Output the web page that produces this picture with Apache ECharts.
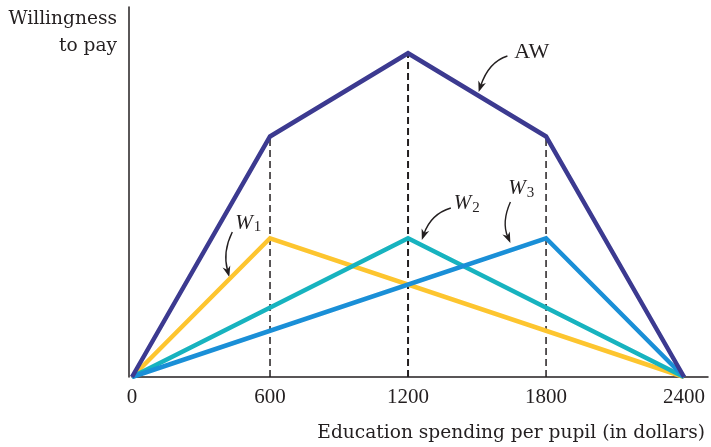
<!DOCTYPE html>
<html>
<head>
<meta charset="utf-8">
<script src="https://cdn.jsdelivr.net/npm/echarts@6/dist/echarts.min.js"></script>
<style>
  html, body { margin: 0; padding: 0; background: #fff; }
  #chart { width: 711px; height: 447px; }
</style>
</head>
<body>
<div id="chart"></div>
<script>
// spending levels (dollars per pupil)
const spendingTicks = [0, 600, 1200, 1800, 2400];

// aggregate willingness to pay
const awX = [0, 600, 1200, 1800, 2400];
const awY = [0, 10.4, 14, 10.4, 0];

// individual willingness to pay
const w1X = [0, 600, 2400];
const w1Y = [0, 6, 0];
const w2X = [0, 1200, 2400];
const w2Y = [0, 6, 0];
const w3X = [0, 1800, 2400];
const w3Y = [0, 6, 0];

// dashed drop lines from the kinks of AW
const dropX = [600, 1200, 1800];
const dropY = [10.4, 14, 10.4];

// annotation labels and arrows, in data units
const labelNames = ["AW", "W1", "W2", "W3"];
const labelAt = [[1662, 14.05], [449, 6.66], [1399, 7.52], [1636, 8.17]];
const arrowFrom = [[1632, 13.88], [436, 6.27], [1386, 7.31], [1645, 7.57]];
const arrowCtrl = [[1550, 13.62], [393, 5.41], [1299, 7.05], [1606, 6.70]];
const arrowTip = [[1507, 12.32], [423, 4.32], [1260, 5.92], [1645, 5.79]];

const FONT = "Liberation Serif";
const WIDE_FONT = "DejaVu Serif";
const INK = "#231f20";

const zip = (xs, ys) => xs.map((x, i) => [x, ys[i]]);

const chart = echarts.init(document.getElementById("chart"));

const dropSeries = dropX.map((x, i) => ({
    type: "line",
    data: [[x, 0], [x, dropY[i]]],
    showSymbol: false,
    silent: true,
    z: 1,
    lineStyle: { color: INK, width: i === 1 ? 2 : 1.5, type: [7, 4] }
}));

function wLine(xs, ys, color, z) {
    return {
        type: "line",
        data: zip(xs, ys),
        showSymbol: false,
        silent: true,
        z: z,
        lineStyle: { color: color, width: 4.5, join: "miter", cap: "butt" }
    };
}

chart.setOption({
    backgroundColor: "#fff",
    animation: false,
    grid: { left: 132, top: 7, width: 579, bottom: 70 },
    xAxis: {
        type: "value",
        min: 0,
        max: 2504,
        interval: 600,
        splitLine: { show: false },
        axisTick: { show: false },
        axisLine: { lineStyle: { color: INK, width: 1.5 } },
        axisLabel: {
            margin: 10,
            color: INK,
            fontFamily: FONT,
            fontSize: 21,
            formatter: v => (spendingTicks.includes(v) ? String(v) : "")
        }
    },
    yAxis: {
        type: "value",
        min: 0,
        max: 16,
        offset: 3,
        splitLine: { show: false },
        axisTick: { show: false },
        axisLabel: { show: false },
        axisLine: { show: true, onZero: false, lineStyle: { color: INK, width: 1.5 } }
    },
    series: [
        ...dropSeries,
        wLine(w1X, w1Y, "#fdc52f", 2),
        wLine(w2X, w2Y, "#17b3bf", 3),
        wLine(w3X, w3Y, "#1a8fd7", 4),
        wLine(awX, awY, "#3c3a90", 5)
    ]
});

/**
 * ----------------------------------------
 * ANNOTATIONS (placed through the axes)
 * ----------------------------------------
 */
const px = p => chart.convertToPixel({ gridIndex: 0 }, p);

const graphics = [
    {
        type: "text",
        x: 117, y: 6,
        style: {
            text: "Willingness\nto pay",
            align: "right",
            fill: INK,
            font: "18.6px '" + WIDE_FONT + "'",
            lineHeight: 27
        }
    },
    {
        type: "text",
        x: 705, y: 424,
        style: {
            text: "Education spending per pupil (in dollars)",
            align: "right",
            fill: INK,
            font: "18.6px '" + WIDE_FONT + "'"
        }
    }
];

labelNames.forEach((name, i) => {
    const [lx, ly] = px(labelAt[i]);
    const text = name === "AW" ? "{n|AW}" : "{i|W}{s|" + name.slice(1) + "}";
    graphics.push({
        type: "text",
        x: lx, y: ly,
        style: {
            text: text,
            verticalAlign: "middle",
            fill: INK,
            rich: {
                n: { fontFamily: FONT, fontSize: 22, fill: INK },
                i: { fontFamily: FONT, fontSize: 21, fontStyle: "italic", fill: INK },
                s: { fontFamily: FONT, fontSize: 15, fill: INK, padding: [9, 0, 0, 1] }
            }
        }
    });

    const a = px(arrowFrom[i]);
    const c = px(arrowCtrl[i]);
    const t = px(arrowTip[i]);
    const dx = t[0] - c[0], dy = t[1] - c[1];
    const len = Math.hypot(dx, dy);
    const ux = dx / len, uy = dy / len;
    const head = 11, half = 4;
    const bx = t[0] - ux * head, by = t[1] - uy * head;
    // stop the shaft inside the arrowhead
    const sx = t[0] - ux * head * 0.6, sy = t[1] - uy * head * 0.6;
    graphics.push({
        type: "bezierCurve",
        shape: { x1: a[0], y1: a[1], cpx1: c[0], cpy1: c[1], x2: sx, y2: sy },
        style: { stroke: INK, lineWidth: 1.4, fill: null }
    });
    graphics.push({
        type: "polygon",
        shape: {
            points: [
                t,
                [bx - uy * half, by + ux * half],
                [t[0] - ux * head * 0.7, t[1] - uy * head * 0.7],
                [bx + uy * half, by - ux * half]
            ]
        },
        style: { fill: INK }
    });
});

chart.setOption({ graphic: graphics });
</script>
</body>
</html>
